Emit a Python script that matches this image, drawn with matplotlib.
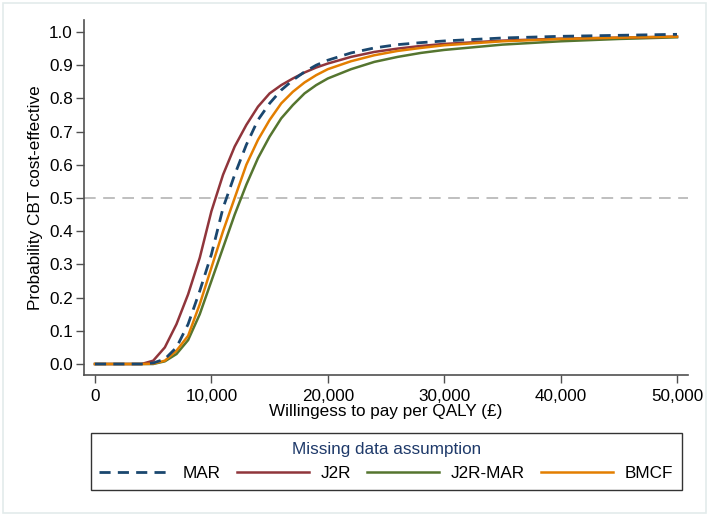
import matplotlib
matplotlib.use("Agg")
import matplotlib.pyplot as plt
from matplotlib.patches import Rectangle

plt.rcParams['font.family'] = ['Liberation Sans', 'DejaVu Sans']

wtp = [0, 1000, 2000, 3000, 4000, 5000, 6000, 7000, 8000, 9000, 10000,
       11000, 12000, 13000, 14000, 15000, 16000, 17000, 18000, 19000, 20000,
       22000, 24000, 26000, 28000, 30000, 35000, 40000, 45000, 50000]

mar = [0, 0, 0, 0, 0.0, 0.003, 0.015, 0.05, 0.12, 0.22, 0.33,
       0.47, 0.57, 0.66, 0.735, 0.785, 0.825, 0.855, 0.88, 0.90, 0.915,
       0.937, 0.952, 0.962, 0.968, 0.973, 0.982, 0.987, 0.990, 0.993]
j2r = [0, 0, 0, 0, 0.0, 0.01, 0.05, 0.12, 0.21, 0.32, 0.46,
       0.57, 0.655, 0.72, 0.775, 0.815, 0.84, 0.86, 0.878, 0.893, 0.905,
       0.925, 0.94, 0.95, 0.958, 0.964, 0.974, 0.98, 0.983, 0.986]
j2r_mar = [0, 0, 0, 0, 0.0, 0.0, 0.008, 0.03, 0.072, 0.15, 0.25,
           0.35, 0.45, 0.54, 0.62, 0.685, 0.74, 0.78, 0.815, 0.84, 0.86,
           0.888, 0.91, 0.925, 0.937, 0.946, 0.962, 0.972, 0.979, 0.984]
bmcf = [0, 0, 0, 0, 0.0, 0.001, 0.01, 0.04, 0.085, 0.18, 0.29,
        0.40, 0.50, 0.60, 0.675, 0.735, 0.785, 0.82, 0.848, 0.87, 0.888,
        0.912, 0.93, 0.943, 0.952, 0.96, 0.972, 0.979, 0.983, 0.986]

series_labels = ["MAR", "J2R", "J2R-MAR", "BMCF"]
yticks = [0.0, 0.1, 0.2, 0.3, 0.4, 0.5, 0.6, 0.7, 0.8, 0.9, 1.0]
xticks = [0, 10000, 20000, 30000, 40000, 50000]

W, H = 709, 516
fig = plt.figure(figsize=(W / 100, H / 100), dpi=100)
fig.patch.set_facecolor('white')
fig.add_artist(Rectangle((3 / W, 3 / H), 703 / W, 510 / H, transform=fig.transFigure,
                         fill=False, edgecolor='#e3ebeb', linewidth=1.2))

ax = fig.add_axes([84 / W, (H - 375) / H, (688 - 84) / W, (375 - 20) / H])
ax.set_facecolor('white')

c_mar, c_j2r, c_j2rmar, c_bmcf = '#1a476f', '#90353b', '#55752f', '#e37e00'
ax.axhline(0.5, color='#b4b4b4', linewidth=1.2, dashes=(7, 4.5), zorder=1)
l1, = ax.plot(wtp, mar, color=c_mar, linewidth=2.0, dashes=(4, 2.6), zorder=5)
l2, = ax.plot(wtp, j2r, color=c_j2r, linewidth=1.8, zorder=3)
l3, = ax.plot(wtp, j2r_mar, color=c_j2rmar, linewidth=1.8, zorder=2)
l4, = ax.plot(wtp, bmcf, color=c_bmcf, linewidth=1.8, zorder=4)

xpad = 11 / 582 * 50000
ax.set_xlim(-xpad, 50000 + xpad)
ax.set_ylim(-11 / 332, 1 + 12 / 332)
ax.set_xticks(xticks)
ax.set_xticklabels([f"{v:,}" for v in xticks])
ax.set_yticks(yticks)
ax.set_yticklabels([f"{v:.1f}" for v in yticks])

for s in ['top', 'right']:
    ax.spines[s].set_visible(False)
for s in ['left', 'bottom']:
    ax.spines[s].set_color('#505050')
    ax.spines[s].set_linewidth(1.2)
ax.tick_params(axis='both', direction='out', length=5.5, width=1.0, color='#505050',
               labelsize=12.3, labelcolor='black')
ax.tick_params(axis='x', pad=4.5)
ax.tick_params(axis='y', pad=2.5)

ax.set_xlabel("Willingess to pay per QALY (£)", fontsize=12.3, labelpad=0)
ax.set_ylabel("Probability CBT cost-effective", fontsize=12.3, labelpad=4)

leg = fig.legend([l1, l2, l3, l4], series_labels, ncol=4, loc='upper left',
                 bbox_to_anchor=(90.7 / W, (H - 433) / H, (682 - 90.7) / W, 0),
                 mode='expand', title="Missing data assumption", fontsize=12.3,
                 title_fontsize=12.3, frameon=True, fancybox=False, edgecolor='black',
                 handlelength=4.2, handletextpad=0.7, columnspacing=1.5,
                 borderpad=0.5, labelspacing=0.2, borderaxespad=0)
leg.get_title().set_color('#1f3a6a')
leg.get_frame().set_linewidth(1.0)
leg._legend_box.sep = 7

fig.savefig("out.png", dpi=100, facecolor='white')
